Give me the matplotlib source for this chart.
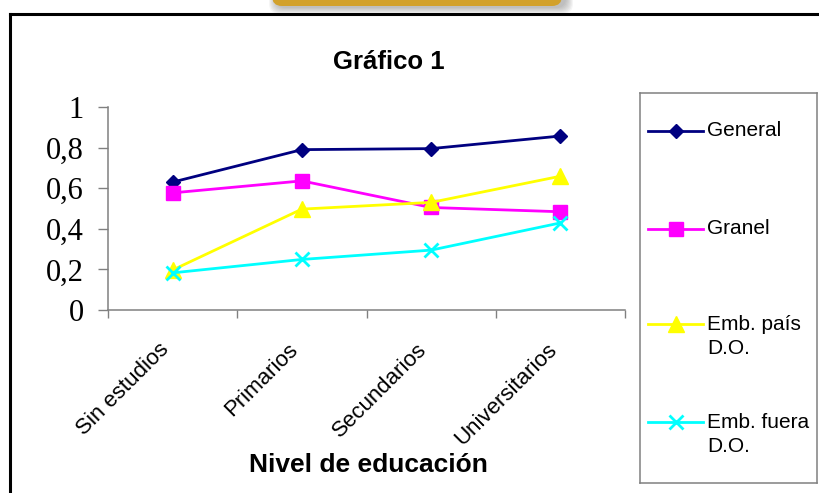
import matplotlib
matplotlib.use("Agg")
import matplotlib.pyplot as plt
from matplotlib.patches import FancyBboxPatch
from matplotlib.ticker import FixedLocator
from matplotlib.transforms import ScaledTranslation

# datos
categorias = ['Sin estudios', 'Primarios', 'Secundarios', 'Universitarios']
general = [0.63, 0.79, 0.795, 0.857]
granel = [0.577, 0.636, 0.505, 0.484]
emb_pais = [0.197, 0.497, 0.53, 0.659]
emb_fuera = [0.183, 0.249, 0.295, 0.429]

series = [
    ('General', general, '#000080', 'D', 7),
    ('Granel', granel, '#FF00FF', 's', 10),
    ('Emb. país\nD.O.', emb_pais, '#FFFF00', '^', 11),
    ('Emb. fuera\nD.O.', emb_fuera, '#00FFFF', 'x', 9.5),
]

W, H = 819, 493
fig = plt.figure(figsize=(W / 100, H / 100), dpi=100)
fig.patch.set_facecolor('white')

# fondo: marco negro y pestaña dorada (coordenadas en pixeles)
bg = fig.add_axes([0, 0, 1, 1], zorder=0)
bg.set_xlim(0, W)
bg.set_ylim(H, 0)
bg.axis('off')
for k in range(8):
    bg.add_patch(FancyBboxPatch((276 - k, -20), 290 + 2 * k, 28 + k * 0.8,
                                boxstyle='round,pad=0,rounding_size=10',
                                fc='#808080', ec='none', alpha=0.08))
bg.add_patch(FancyBboxPatch((272, -20), 290, 26,
                            boxstyle='round,pad=0,rounding_size=10',
                            fc='#D2A12C', ec='none'))
bg.plot([9.5, W + 5], [13.5, 13.5], color='black', lw=2.2, solid_capstyle='projecting')
bg.plot([9.5, 9.5], [13.5, H + 5], color='black', lw=2.2, solid_capstyle='projecting')

# grafico
x0, x1, y0, y1 = 108, 625, 310, 107
ax = fig.add_axes([x0 / W, 1 - y0 / H, (x1 - x0) / W, (y0 - y1) / H], zorder=2)
ax.patch.set_alpha(0)
xs = range(len(categorias))
for nombre, vals, color, marker, ms in series:
    mew = 2 if marker == 'x' else 1
    ax.plot(xs, vals, color=color, lw=2, marker=marker, ms=ms, mfc=color,
            mec=color, mew=mew, clip_on=False)

ax.set_xlim(-0.5, len(categorias) - 0.5)
ax.set_ylim(0, 1)
ax.set_yticks([0, 0.2, 0.4, 0.6, 0.8, 1])
ax.set_yticklabels(['0', '0,2', '0,4', '0,6', '0,8', '1'],
                   fontfamily='Liberation Serif', fontsize=22)
ax.tick_params(axis='y', length=7.5, width=1, color='#808080', pad=10)
ax.set_xticks(list(xs))
ax.set_xticklabels(categorias, rotation=45, ha='right', va='center',
                   rotation_mode='anchor', fontfamily='Liberation Sans', fontsize=16)
ax.tick_params(axis='x', which='major', length=0, pad=20)
desplaza = ScaledTranslation(-0.07, -0.09, fig.dpi_scale_trans)
for lbl in ax.get_xticklabels():
    lbl.set_transform(lbl.get_transform() + desplaza)
ax.xaxis.set_minor_locator(FixedLocator([i - 0.5 for i in range(len(categorias) + 1)]))
ax.tick_params(axis='x', which='minor', length=5.5, width=1, color='#808080')
for s in ['top', 'right']:
    ax.spines[s].set_visible(False)
for s in ['left', 'bottom']:
    ax.spines[s].set_color('#808080')
    ax.spines[s].set_linewidth(1.1)

fig.text(389 / W, 1 - 62 / H, 'Gráfico 1', ha='center', va='center',
         fontfamily='Liberation Sans', fontweight='bold', fontsize=18.5)
fig.text(368 / W, 1 - 465 / H, 'Nivel de educación', ha='center', va='center',
         fontfamily='Liberation Sans', fontweight='bold', fontsize=19)

# leyenda
lx0, lx1, ly0, ly1 = 640, 817, 93, 483
lax = fig.add_axes([lx0 / W, 1 - ly1 / H, (lx1 - lx0) / W, (ly1 - ly0) / H], zorder=3)
lax.set_xlim(0, lx1 - lx0)
lax.set_ylim(ly1 - ly0, 0)
lax.set_xticks([])
lax.set_yticks([])
for s in lax.spines.values():
    s.set_color('#808080')
    s.set_linewidth(1.1)
filas = [38, 136, 231, 329]
for (nombre, vals, color, marker, ms), fy in zip(series, filas):
    mew = 2 if marker == 'x' else 1
    lax.plot([8, 35.5, 63], [fy, fy, fy], color=color, lw=2, marker=marker,
             ms=ms, mfc=color, mec=color, mew=mew, markevery=[1])
    for j, linea in enumerate(nombre.split('\n')):
        lax.text(67, fy + j * 24, linea, ha='left', va='center',
                 fontfamily='Liberation Sans', fontsize=15)

fig.savefig('out.png', dpi=100)
